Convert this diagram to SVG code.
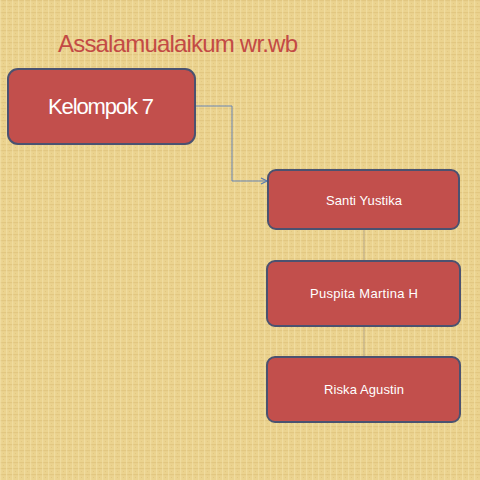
<svg xmlns="http://www.w3.org/2000/svg" width="480" height="480" viewBox="0 0 480 480">
<defs>
<pattern id="burlap" width="6" height="6" patternUnits="userSpaceOnUse">
<rect width="6" height="6" fill="#ebd38f"/>
<rect x="0" y="0" width="6" height="1.2" fill="#dcbf78" opacity="0.6"/>
<rect x="0" y="0" width="1.2" height="6" fill="#f3e0a6" opacity="0.7"/>
<rect x="3" y="3" width="1" height="1" fill="#d9bb74" opacity="0.5"/>
</pattern>
<marker id="arr" markerWidth="8" markerHeight="8" refX="7" refY="4" orient="auto" markerUnits="userSpaceOnUse">
<path d="M1,1 L7,4 L1,7" fill="none" stroke="#5a7bb0" stroke-width="1.2"/>
</marker>
<style>
.box{fill:#c24f4c;stroke:#4b5270;stroke-width:2}
.lbl{fill:#ffffff;font-family:"Liberation Sans","DejaVu Sans",sans-serif;text-anchor:middle}
.conn{fill:none;stroke:#6a86b4;stroke-width:1}
.vconn{fill:none;stroke:#b8a98a;stroke-width:1}
</style>
</defs>
<rect width="480" height="480" fill="url(#burlap)"/>
<text x="178" y="52" font-family="Liberation Sans, DejaVu Sans, sans-serif" font-size="24" fill="#c34a45" text-anchor="middle" textLength="240">Assalamualaikum wr.wb</text>
<g id="connectors">
<path class="conn" d="M195,106 H232 V181 H267" marker-end="url(#arr)"/>
<path class="vconn" d="M364,230 V261"/>
<path class="vconn" d="M364,326 V357"/>
</g>
<g id="kelompok7">
<rect class="box" x="8" y="69" width="187" height="75" rx="10"/>
<text class="lbl" x="101" y="114" font-size="22" textLength="106">Kelompok 7</text>
</g>
<g id="santi">
<rect class="box" x="268" y="170" width="191" height="59" rx="8"/>
<text class="lbl" x="364" y="205" font-size="13" textLength="76">Santi Yustika</text>
</g>
<g id="puspita">
<rect class="box" x="267" y="261" width="193" height="65" rx="8"/>
<text class="lbl" x="364" y="298" font-size="13" textLength="108">Puspita Martina H</text>
</g>
<g id="riska">
<rect class="box" x="267" y="357" width="193" height="65" rx="8"/>
<text class="lbl" x="364" y="394" font-size="13" textLength="80">Riska Agustin</text>
</g>
</svg>
